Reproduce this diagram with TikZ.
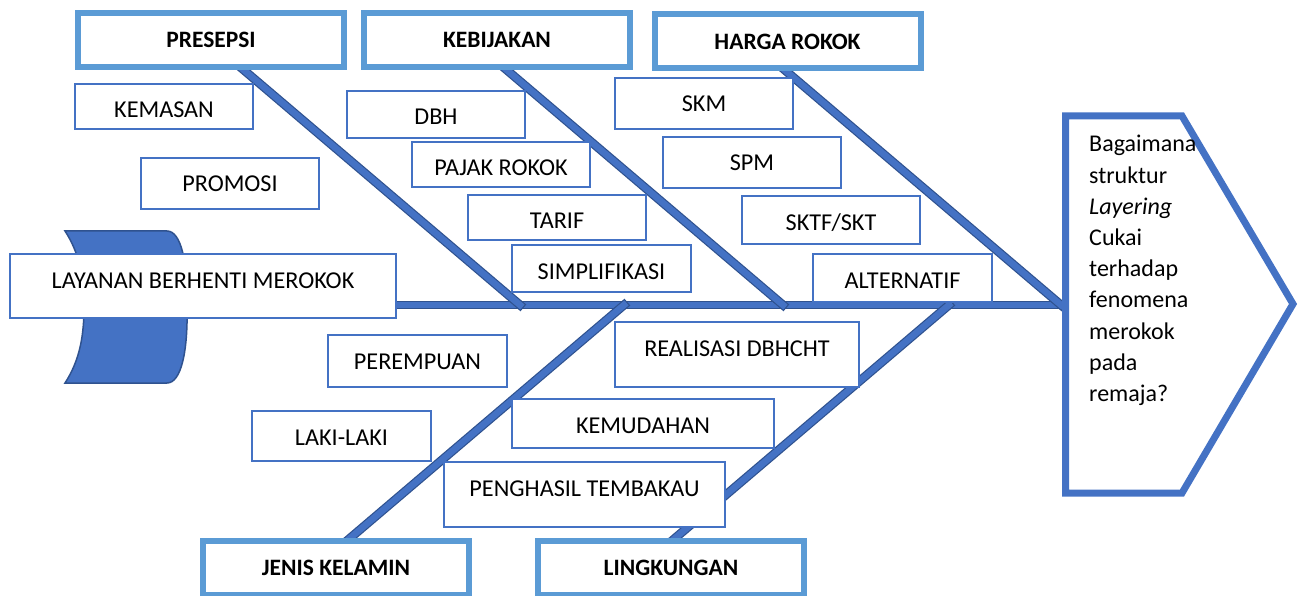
\documentclass[tikz,border=0pt]{standalone}
\usepackage{fontspec}
\setmainfont{Carlito}
\usetikzlibrary{backgrounds}
\definecolor{acc}{HTML}{4472C4}
\definecolor{accdark}{HTML}{2F528F}
\definecolor{hdr}{HTML}{5B9BD5}
\begin{document}
\begin{tikzpicture}[x=1pt,y=-1pt,
  sbox/.style={draw=acc, line width=2pt, fill=white, anchor=north, inner sep=0pt,
    text height=34pt, font=\fontsize{24.2}{29}\selectfont},
  hbox/.style={draw=hdr, line width=6pt, fill=white, minimum width=266pt,
    minimum height=54pt, inner sep=0pt, font=\bfseries\fontsize{23.5}{28}\selectfont},
  bone/.style={draw=accdark, line width=1.2pt, double=acc, double distance=6.5pt, line cap=rect},
  spinestyle/.style={draw=accdark, line width=1.2pt, double=acc, double distance=6.5pt},
  tailstyle/.style={draw=accdark, line width=1.5pt, fill=acc},
  headstyle/.style={draw=acc, line width=7pt, fill=white, line join=miter}
]
\useasboundingbox (0,0) rectangle (1301,596);

% coordinates
\coordinate (spineend) at (1062,305);
\coordinate (jP) at (520,305);
\coordinate (jK) at (783,305);
\coordinate (jH) at (1061,305);
\coordinate (jJ) at (624,305);
\coordinate (jL) at (949,305);
\coordinate (sP) at (232,60);
\coordinate (sK) at (495,60);
\coordinate (sH) at (773,60);
\coordinate (sJ) at (342,545);
\coordinate (sL) at (667,545);

% main box of the tail
\node[sbox, minimum width=386pt, text depth=30pt] (layanan) at (203,253) {LAYANAN BERHENTI MEROKOK};

\begin{scope}[on background layer]
  % tail
  \draw[tailstyle] (65,231) -- (167,231)
    .. controls (181,231) and (188,262) .. (187,307)
    .. controls (188,352) and (181,383) .. (167,383)
    -- (65,383)
    .. controls (80,360) and (84,335) .. (84,307)
    .. controls (84,279) and (80,254) .. (65,231) -- cycle;
  % spine
  \draw[spinestyle] (layanan.east |- spineend) -- (spineend);
  % bones
  \draw[bone] (sP) -- (jP);
  \draw[bone] (sK) -- (jK);
  \draw[bone] (sH) -- (jH);
  \draw[bone] (sJ) -- (jJ);
  \draw[bone] (sL) -- (jL);
\end{scope}

% small boxes
\node[sbox, minimum width=178pt, text depth=11pt] (kemasan) at (164,83) {KEMASAN};
\node[sbox, minimum width=178pt, text depth=17pt] (promosi) at (230,157) {PROMOSI};
\node[sbox, minimum width=178pt, text depth=13pt] (dbh) at (436,90) {DBH};
\node[sbox, minimum width=178pt, text depth=11pt] (pajak) at (501,141) {PAJAK ROKOK};
\node[sbox, minimum width=178pt, text depth=11pt] (tarif) at (557,194) {TARIF};
\node[sbox, minimum width=179pt, text depth=13pt] (simpl) at (601.5,244) {SIMPLIFIKASI};
\node[sbox, minimum width=178pt, text depth=17pt] (skm) at (704,77) {SKM};
\node[sbox, minimum width=178pt, text depth=17pt] (spm) at (752,136) {SPM};
\node[sbox, minimum width=178pt, text depth=14pt] (sktf) at (831,195) {SKTF/SKT};
\node[sbox, minimum width=179pt, text depth=14pt] (altern) at (902.5,253) {ALTERNATIF};
\node[sbox, minimum width=244pt, text depth=31pt] (realisasi) at (737,321) {REALISASI DBHCHT};
\node[sbox, minimum width=179pt, text depth=18pt] (perempuan) at (417.5,334) {PEREMPUAN};
\node[sbox, minimum width=179pt, text depth=16pt] (laki) at (341.5,410) {LAKI-LAKI};
\node[sbox, minimum width=262pt, text depth=15pt] (kemudahan) at (643,398) {KEMUDAHAN};
\node[sbox, minimum width=281pt, text depth=31pt] (penghasil) at (584.5,461) {PENGHASIL TEMBAKAU};

% headers
\node[hbox] (presepsi) at (211,40) {PRESEPSI};
\node[hbox] (kebijakan) at (497,40) {KEBIJAKAN};
\node[hbox] (harga) at (787.5,41.5) {HARGA ROKOK};
\node[hbox] (jenis) at (336,568) {JENIS KELAMIN};
\node[hbox] (lingkungan) at (671,568) {LINGKUNGAN};

% head
\draw[headstyle] (1065.5,116) -- (1182,116) -- (1293,304) -- (1182,493) -- (1065.5,493) -- cycle;
\node[anchor=base west, inner sep=0pt] (question) at (1089,152)
  {\parbox[t]{160pt}{\raggedright\fontsize{24}{31.2}\selectfont
   Bagaimana\\ struktur\\ \textit{Layering}\\ Cukai\\ terhadap\\ fenomena\\ merokok\\ pada\\ remaja?}};
\end{tikzpicture}
\end{document}
